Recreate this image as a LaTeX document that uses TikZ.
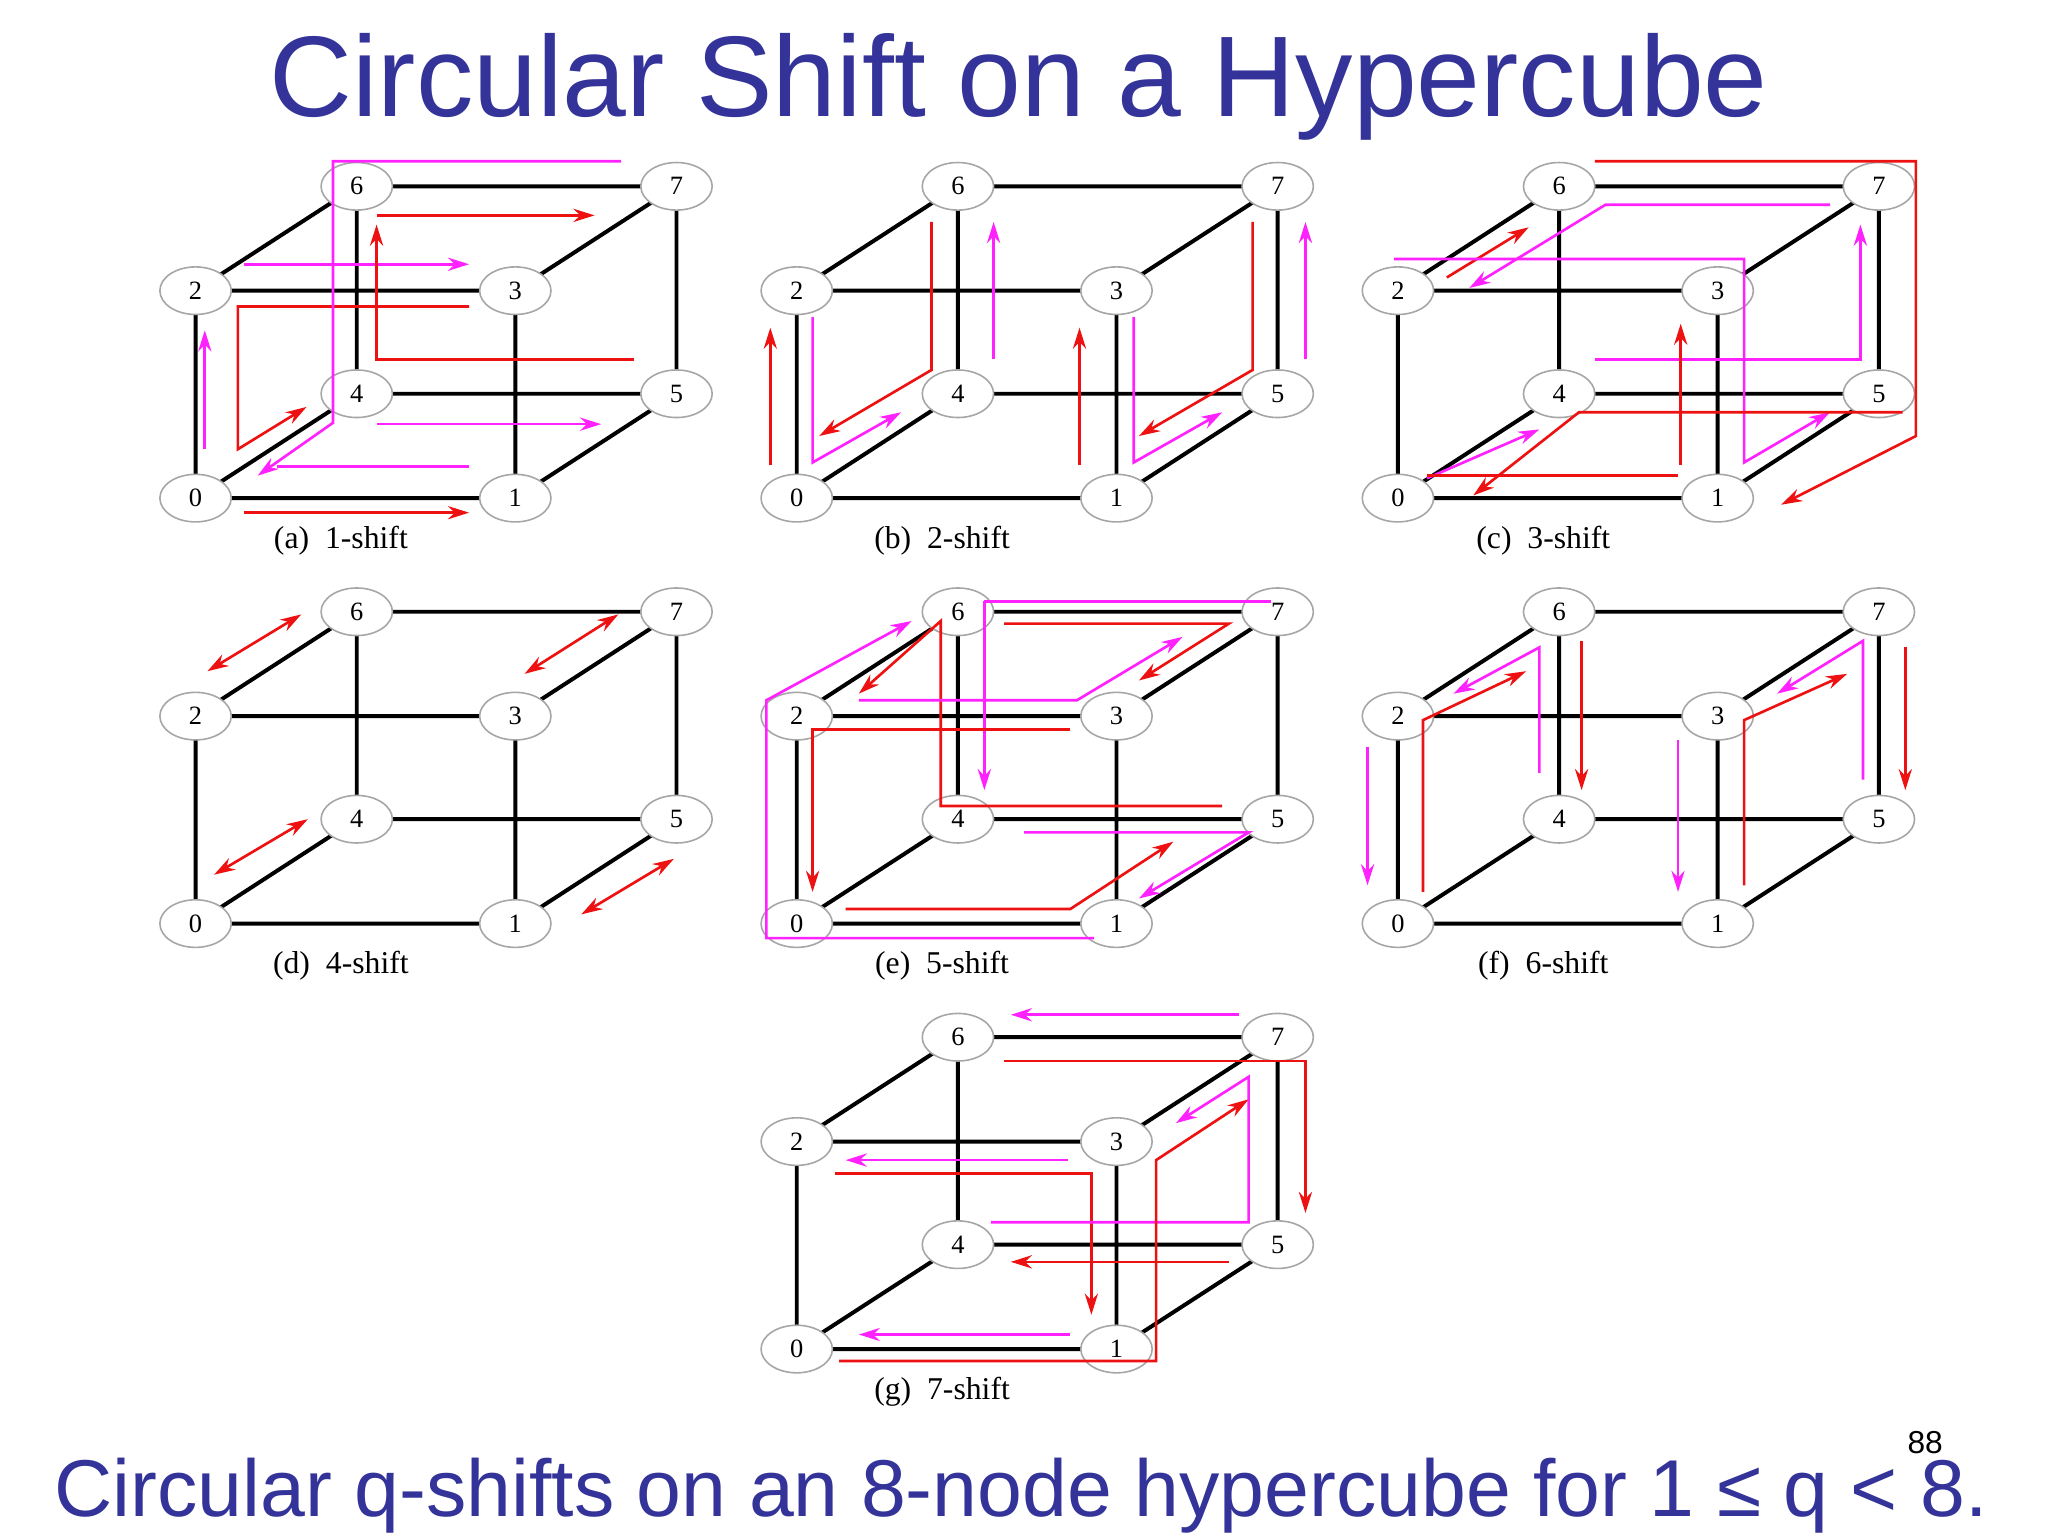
\documentclass[tikz,border=0pt]{standalone}
\usepackage{fontspec}
\setmainfont{Liberation Serif}
\newfontfamily\hsans{Liberation Sans}
\usetikzlibrary{arrows.meta,shapes.geometric}
\definecolor{ttl}{HTML}{333399}
\definecolor{rd}{HTML}{EE1111}
\definecolor{pk}{HTML}{FF22FF}
\tikzset{
 vtx/.style={ellipse,draw=gray!70,line width=1.2pt,fill=white,minimum width=54pt,minimum height=36pt,inner sep=0pt,font=\fontsize{20}{20}\selectfont},
 edg/.style={line width=3pt,black},
 ra/.style={rd,line width=2pt,-{Stealth[length=16pt,width=10pt]}},
 pa/.style={pk,line width=2pt,-{Stealth[length=16pt,width=10pt]}},
 rda/.style={rd,line width=2pt,{Stealth[length=16pt,width=10pt]}-{Stealth[length=16pt,width=10pt]}},
 sublabel/.style={font=\fontsize{24}{24}\selectfont}
}
\newcommand{\hcube}[4]{%
 \begin{scope}[shift={(#1,#2)}]
 \coordinate (#3c0) at (148,377); \coordinate (#3c1) at (390,377);
 \coordinate (#3c2) at (148,220); \coordinate (#3c3) at (390,220);
 \coordinate (#3c4) at (270,298); \coordinate (#3c5) at (512,298);
 \coordinate (#3c6) at (270,141); \coordinate (#3c7) at (512,141);
 \draw[edg] (#3c0)--(#3c1)--(#3c3)--(#3c2)--cycle (#3c4)--(#3c5)--(#3c7)--(#3c6)--cycle
   (#3c0)--(#3c4) (#3c1)--(#3c5) (#3c2)--(#3c6) (#3c3)--(#3c7);
 \foreach \i in {0,...,7}{\node[vtx] (#3n\i) at (#3c\i) {\i};}
 \node[sublabel] (#3lab) at (258,409) {#4};
 \end{scope}}
\begin{document}
\begin{tikzpicture}[x=1pt,y=-1pt]
\useasboundingbox[fill=white] (0,0) rectangle (1550,1162);
\node[ttl,font=\hsans] (title) at (771,66) {\resizebox{1133pt}{!}{Circular Shift on a Hypercube}};
\node[ttl,font=\hsans] (bottom) at (773,1132) {\resizebox{1463pt}{!}{Circular q-shifts on an 8-node hypercube for 1 ≤ q < 8.}};
\node[font=\hsans\fontsize{24}{24}\selectfont] (pg) at (1457,1092) {88};
\hcube{0}{0}{a}{(a)\ \ 1-shift}
\hcube{455}{0}{b}{(b)\ \ 2-shift}
\hcube{910}{0}{c}{(c)\ \ 3-shift}
\hcube{0}{322}{d}{(d)\ \ 4-shift}
\hcube{455}{322}{e}{(e)\ \ 5-shift}
\hcube{910}{322}{f}{(f)\ \ 6-shift}
\hcube{455}{644}{g}{(g)\ \ 7-shift}
% (a)
\draw[ra] (185,388)--(355,388);
\draw[pa] (285,321)--(455,321);
\draw[pa] (185,200)--(355,200);
\draw[ra] (285,163)--(450,163);
\draw[ra] (480,272)--(285,272)--(285,170);
\draw[ra] (355,232)--(180,232)--(180,340)--(232,308);
\draw[pa] (470,122)--(252,122)--(252,320)--(195,360);
\draw[pa] (155,340)--(155,250);
\draw[pk,line width=2pt] (355,353)--(210,353);
% (b)
\draw[ra] (583,352)--(583,248);
\draw[pa] (615,240)--(615,350)--(682,312);
\draw[ra] (705,168)--(705,280)--(620,330);
\draw[pa] (752,272)--(752,168);
\draw[ra] (817,352)--(817,248);
\draw[pa] (858,240)--(858,350)--(925,312);
\draw[ra] (948,168)--(948,280)--(862,330);
\draw[pa] (988,272)--(988,168);
% (c)
\draw[ra] (1207,122)--(1450,122)--(1450,330)--(1348,382);
\draw[pa] (1385,155)--(1215,155)--(1112,218);
\draw[ra] (1095,210)--(1157,172);
\draw[pa] (1055,196)--(1320,196)--(1320,350)--(1385,312);
\draw[pa] (1207,272)--(1408,272)--(1408,170);
\draw[ra] (1272,352)--(1272,245);
\draw[ra] (1440,312)--(1195,312)--(1115,375);
\draw[pa] (1080,362)--(1165,325);
\draw[rd,line width=2pt] (1080,360)--(1270,360);
% (d)
\draw[rda] (157,508)--(228,465);
\draw[rda] (397,510)--(468,465);
\draw[rda] (162,662)--(233,620);
\draw[rda] (440,692)--(510,650);
% (e)
\draw[pa] (745,455)--(745,598);
\draw[pk,line width=2pt] (745,455)--(962,455);
\draw[pa] (828,710)--(580,710)--(580,530)--(690,470);
\draw[ra] (810,552)--(615,552)--(615,675);
\draw[ra] (640,688)--(810,688)--(888,637);
\draw[pa] (775,630)--(945,630)--(862,680);
\draw[ra] (925,610)--(712,610)--(712,470)--(650,525);
\draw[pa] (650,530)--(815,530)--(895,482);
\draw[ra] (760,472)--(930,472)--(862,515);
% (f)
\draw[pa] (1035,565)--(1035,670);
\draw[ra] (1077,675)--(1077,545)--(1155,508);
\draw[pa] (1165,585)--(1165,490)--(1100,525);
\draw[ra] (1197,485)--(1197,598);
\draw[pa] (1270,560)--(1270,675);
\draw[ra] (1320,670)--(1320,545)--(1398,510);
\draw[pa] (1410,590)--(1410,485)--(1345,525);
\draw[ra] (1442,490)--(1442,598);
% (g)
\draw[pa] (938,768)--(765,768);
\draw[ra] (760,803)--(988,803)--(988,918);
\draw[pa] (808,878)--(640,878);
\draw[ra] (632,888)--(826,888)--(826,995);
\draw[pa] (750,925)--(945,925)--(945,815)--(890,850);
\draw[ra] (635,1030)--(875,1030)--(875,878)--(945,832);
\draw[ra] (930,955)--(765,955);
\draw[pa] (810,1010)--(650,1010);
\end{tikzpicture}
\end{document}
